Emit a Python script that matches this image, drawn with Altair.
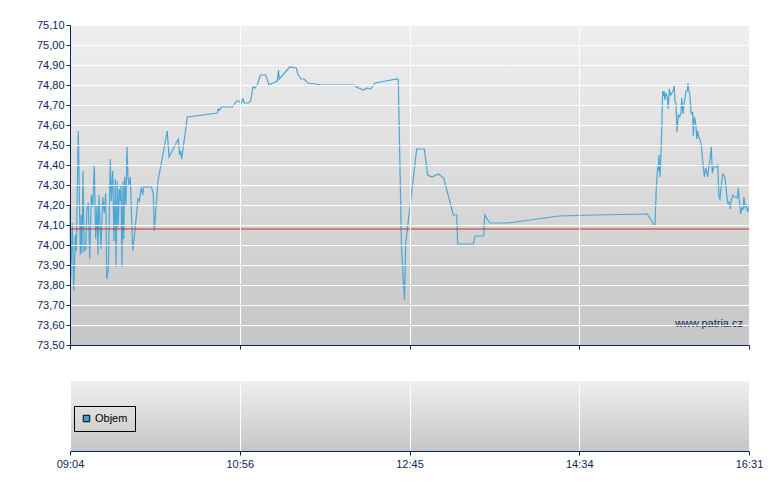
import altair as alt
import pandas as pd

# --- data (x = position along the session axis, 0..679 units) ---
POS = [0, 0.7, 2.3, 3.7, 5.3, 6.3, 8.3, 10.3, 11.3, 12, 13, 14.3, 15.7, 17, 18.3, 19.7,
       21.3, 22.7, 24.3, 25.7, 27, 28, 29, 31, 32.7, 34.3, 35.7, 36.7, 38.3, 40.3, 41.3,
       42.7, 44, 45.3, 46, 47.3, 48.3, 49.3, 50.3, 51, 52, 53, 53.7, 54.7, 56, 57, 58, 59,
       60.3, 61.5, 62.7, 64.3, 68, 69.3, 71.3, 72.7, 73.7, 81.3, 83.3, 84.3, 88, 97.3, 99,
       108.3, 109.7, 110.7, 111.7, 117.3, 147.3, 148.3, 149.7, 151.3, 153, 162.3, 165,
       166.7, 169, 171.3, 173, 174.3, 178.3, 180.7, 183, 185, 188, 190.3, 195.7, 199, 203,
       207.3, 208.5, 209.3, 219.7, 226.3, 227.7, 229.7, 230.7, 234, 238, 252.3, 284, 286.3,
       293.3, 297.3, 300.7, 305, 315.7, 327.3, 328.3, 331.5, 334.5, 335.7, 346.7, 354.3,
       357.7, 362, 368.3, 373.7, 383.3, 386.7, 387.7, 403.3, 405, 413.7, 414.7, 419.7, 438.3,
       489, 527, 577.3, 584, 585, 586.3, 587.7, 588.3, 589, 590, 591.3, 592.7, 593.3, 594,
       595, 596, 597.3, 598.3, 599.3, 600.7, 602, 603.3, 604.3, 605, 606, 607, 608.3, 609.7,
       611, 611.7, 613, 614.3, 616, 617.3, 618, 618.7, 619.7, 621, 622, 622.7, 623.3, 624.3,
       625.3, 626, 626.7, 627.7, 628.7, 629.7, 631, 632.3, 633.7, 634.3, 635.7, 637, 637.7,
       639, 640.3, 641.3, 642.3, 643.7, 646.3, 647.7, 649, 650, 651.3, 652.7, 653.7, 655,
       656.3, 657.7, 659, 660.3, 661.3, 663, 664.3, 665.7, 667.3, 668.3, 669.7, 670.7, 671.7,
       673, 674, 675, 676.3, 677.7, 678.7]
PRICE = [74.19, 73.83, 74.11, 73.775, 74.05, 73.97, 74.57, 73.95, 74.15, 73.96, 74.37, 73.97,
         73.98, 74.19, 74.21, 73.93, 74.25, 74.19, 74.40, 74.03, 74.20, 73.95, 74.25, 73.98,
         74.24, 74.16, 74.26, 73.83, 73.87, 74.43, 74.22, 74.37, 74.02, 74.33, 73.89, 74.32,
         74.09, 74.28, 74.22, 74.30, 73.89, 74.32, 74.03, 74.34, 74.20, 74.49, 74.34, 74.30,
         74.34, 74.15, 73.97, 74.04, 74.23, 74.22, 74.29, 74.25, 74.29, 74.29, 74.26, 74.07,
         74.32, 74.57, 74.44, 74.53, 74.45, 74.47, 74.43, 74.64, 74.66, 74.68, 74.675, 74.69,
         74.69, 74.69, 74.71, 74.72, 74.72, 74.71, 74.73, 74.71, 74.71, 74.72, 74.79, 74.785,
         74.81, 74.85, 74.85, 74.80, 74.81, 74.82, 74.875, 74.83, 74.89, 74.885, 74.855,
         74.84, 74.83, 74.83, 74.81, 74.80, 74.80, 74.79, 74.775, 74.785, 74.78, 74.81,
         74.82, 74.83, 74.825, 73.99, 73.725, 74.01, 74.48, 74.48, 74.35, 74.34, 74.355,
         74.335, 74.15, 74.15, 74.005, 74.005, 74.045, 74.045, 74.15, 74.11, 74.11, 74.145,
         74.15, 74.155, 74.10, 74.10, 74.285, 74.39, 74.37, 74.45, 74.34, 74.50, 74.77,
         74.745, 74.77, 74.725, 74.76, 74.74, 74.68, 74.78, 74.75, 74.76, 74.775, 74.795,
         74.715, 74.71, 74.565, 74.65, 74.64, 74.66, 74.735, 74.655, 74.71, 74.77, 74.77,
         74.81, 74.77, 74.76, 74.665, 74.655, 74.665, 74.545, 74.64, 74.62, 74.595, 74.53,
         74.57, 74.54, 74.53, 74.51, 74.44, 74.375, 74.34, 74.385, 74.36, 74.34, 74.40,
         74.44, 74.49, 74.36, 74.39, 74.39, 74.405, 74.24, 74.23, 74.30, 74.355, 74.35,
         74.335, 74.275, 74.21, 74.215, 74.18, 74.225, 74.25, 74.24, 74.24, 74.235, 74.285,
         74.20, 74.155, 74.185, 74.18, 74.24, 74.19, 74.20, 74.165, 74.19]
REF_PRICE = [74.08]
Y_TICKS = [73.5, 73.6, 73.7, 73.8, 73.9, 74.0, 74.1, 74.2, 74.3, 74.4, 74.5, 74.6, 74.7,
           74.8, 74.9, 75.0, 75.1]
X_TICKS = [0, 169.75, 339.5, 509.25, 679]
X_LABELS = ["09:04", "10:56", "12:45", "14:34", "16:31"]
VOL_SERIES = ["Objem"]
VOL_VALUES = [0]

W, H, HV = 679, 320, 70
NAVY = "#0c2657"
LINE = "#4aa6d6"
FONT = "Liberation Sans"
NARROW = "Liberation Sans Narrow, Liberation Sans"

df = pd.DataFrame({"pos": POS, "price": PRICE})
ref = pd.DataFrame({"ref": REF_PRICE})
vol = pd.DataFrame({"series": VOL_SERIES, "pos": [0], "vol": VOL_VALUES})

grad = alt.LinearGradient(
    gradient="linear",
    stops=[alt.GradientStop(color="#efefef", offset=0),
           alt.GradientStop(color="#c6c6c6", offset=1)],
    x1=0, x2=0, y1=0, y2=1)

xscale = alt.Scale(domain=[0, 679], nice=False, zero=False)
label_expr = "[" + ",".join("'%s'" % s for s in X_LABELS) + "][round(datum.value / 169.75)]"

bg_main = alt.Chart(alt.Data(values=[{}])).mark_rect(fill=grad).encode(
    x=alt.value(0), x2=alt.value(W), y=alt.value(0), y2=alt.value(H))

line = alt.Chart(df).mark_line(color=LINE, strokeWidth=1.2).encode(
    x=alt.X("pos:Q", scale=xscale,
            axis=alt.Axis(values=X_TICKS, tickCount=len(X_TICKS), labels=False, title=None,
                          grid=True, gridColor="white", gridWidth=1, domainColor=NAVY,
                          tickColor=NAVY, tickSize=4, zindex=1)),
    y=alt.Y("price:Q", scale=alt.Scale(domain=[73.5, 75.1], nice=False, zero=False),
            axis=alt.Axis(values=Y_TICKS, tickCount=len(Y_TICKS), title=None, grid=True,
                          gridColor="white", gridWidth=1, domainColor=NAVY,
                          tickColor=NAVY, tickSize=4, labelOverlap=False,
                          labelFont=FONT, labelFontSize=11, labelColor=NAVY,
                          labelPadding=2, zindex=1,
                          labelExpr="replace(format(datum.value, '.2f'), '.', ',')")))

rule = alt.Chart(ref).mark_rule(color="#c03028", strokeWidth=1).encode(y="ref:Q")

mark_txt = alt.Chart(alt.Data(values=[{}])).mark_text(
    align="right", baseline="middle", font=FONT, fontSize=11, color=NAVY).encode(
    x=alt.value(W - 6), y=alt.value(H - 21), text=alt.value("www.patria.cz"))

main = alt.layer(bg_main, line, rule, mark_txt).properties(width=W, height=H)

bg_vol = alt.Chart(alt.Data(values=[{}])).mark_rect(fill=grad).encode(
    x=alt.value(0), x2=alt.value(W), y=alt.value(0), y2=alt.value(HV))

vmarks = alt.Chart(vol).mark_square(size=0, filled=True).encode(
    x=alt.X("pos:Q", scale=xscale,
            axis=alt.Axis(values=X_TICKS, tickCount=len(X_TICKS), title=None, grid=True,
                          gridColor="white", gridWidth=1, domainColor=NAVY, tickColor=NAVY,
                          tickSize=4, labelFont=NARROW, labelFontSize=11, labelColor=NAVY,
                          labelPadding=3, labelExpr=label_expr, zindex=1,
                          labelOverlap=False, labelBound=False, labelFlush=False)),
    y=alt.Y("vol:Q", scale=alt.Scale(domain=[0, 1]), axis=None),
    color=alt.Color("series:N", scale=alt.Scale(range=["#3d9fd2"]),
                    legend=alt.Legend(title=None, orient="none", legendX=4, legendY=25,
                                      padding=7, strokeColor="black", symbolType="square",
                                      symbolSize=42, symbolStrokeColor="black",
                                      symbolStrokeWidth=1, symbolOpacity=1,
                                      symbolFillColor="#3d9fd2", labelFont=FONT,
                                      labelFontSize=11, labelColor="black",
                                      labelOffset=3)))

volume = alt.layer(bg_vol, vmarks).properties(width=W, height=HV)

chart = alt.vconcat(main, volume, spacing=31).resolve_legend(color="independent").properties(
    padding={"left": 28, "top": 11, "right": 5, "bottom": 5}
).configure_view(stroke=None)

chart.save("out.html", embed_options={"renderer": "svg", "actions": False})
